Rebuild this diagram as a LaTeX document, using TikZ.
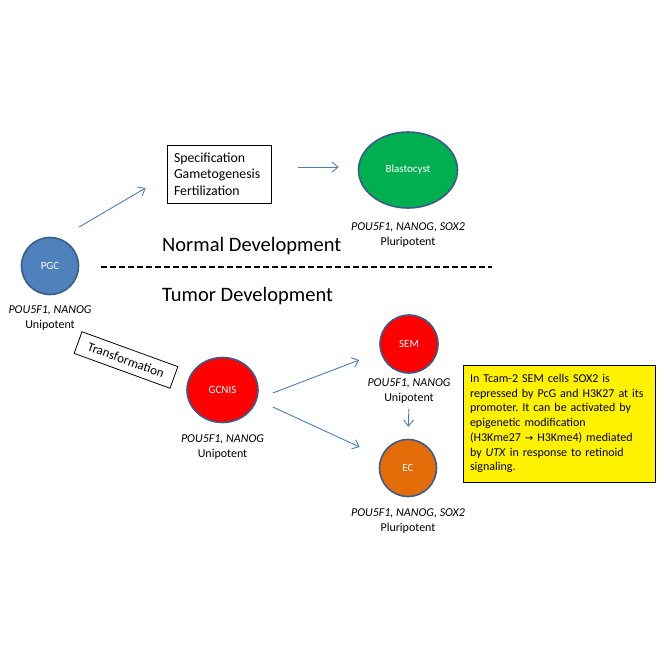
\documentclass[tikz,border=0pt]{standalone}
\usepackage{fontspec}
\setmainfont{Carlito}
\usetikzlibrary{positioning,arrows.meta,shapes.geometric}
\definecolor{cellblue}  {HTML}{4F81BD}
\definecolor{cellrim}   {HTML}{385D8A}
\definecolor{cellgreen} {HTML}{00B050}
\definecolor{cellred}   {HTML}{FF0000}
\definecolor{cellorange}{HTML}{E36C09}
\definecolor{arrowblue} {HTML}{4A7EBB}
\frenchspacing

\begin{document}
\begin{tikzpicture}[x=1pt, y=-1pt,
  font=\fontsize{12}{15}\selectfont,
  cell/.style  ={ellipse, draw=cellrim, line width=1.6pt, minimum width=57pt,
                 minimum height=57pt, inner sep=0pt, text=white,
                 font=\fontsize{11}{13}\selectfont},
  genes/.style ={align=center, inner sep=0pt, font=\fontsize{12}{15}\selectfont},
  stage/.style ={draw, line width=0.8pt, align=left, inner xsep=7pt,
                 font=\fontsize{13.8}{16.7}\selectfont},
  title/.style ={anchor=west, inner sep=0pt, font=\fontsize{20.5}{23}\selectfont},
  ar/.style    ={-{Straight Barb[length=6pt,width=10pt]}, draw=arrowblue,
                 line width=0.9pt},
]
\useasboundingbox (0,0) rectangle (664,664);

% normal development
\node[cell, fill=cellblue] (pgc) at (50,266) {PGC};
\node[genes, below=10pt of pgc] (pgctxt) {\textit{POU5F1, NANOG}\\Unipotent};

\node[stage, text width=90pt, minimum height=58pt] (spec) at (219,174)
  {Specification\\Gametogenesis\\Fertilization};

\node[cell, fill=cellgreen, minimum width=99pt, minimum height=76pt] (blast)
  at (408,170) {Blastocyst};
\node[genes, below=14pt of blast] (blasttxt)
  {\textit{POU5F1, NANOG, SOX2}\\Pluripotent};

\draw[ar] ([shift={(8,-18)}]pgc.north east) -- ([shift={(-21,14)}]spec.west);
\draw[ar] ([shift={(27,-7)}]spec.east) -- ([shift={(-19,-3)}]blast.west);

\node[title] (normal) at (162,246) {Normal Development};
\coordinate (cutL) at (101,267);
\coordinate (cutR) at (492,267);
\draw[line width=1.1pt, dash pattern=on 6pt off 3pt] (cutL) -- (cutR);
\node[title] (tumor) at (162,296) {Tumor Development};

% tumor development
\node[draw, line width=0.8pt, rotate=-20, minimum width=102pt, minimum height=23pt,
      inner sep=2pt, font=\fontsize{13}{15}\selectfont] (trans) at (126,360)
  {Transformation};

\node[cell, fill=cellred, minimum width=71pt, minimum height=65pt] (gcnis)
  at (222.5,390) {GCNIS};
\node[genes, below=11pt of gcnis] (gcnistxt) {\textit{POU5F1, NANOG}\\Unipotent};

\node[cell, fill=cellred, minimum width=58pt, minimum height=58pt] (sem)
  at (409,344) {SEM};
\node[genes, below=5pt of sem] (semtxt) {\textit{POU5F1, NANOG}\\Unipotent};

\node[cell, fill=cellorange] (ec) at (408,468) {EC};
\node[genes, below=11pt of ec] (ectxt) {\textit{POU5F1, NANOG, SOX2}\\Pluripotent};

\draw[ar] ([shift={(14,3)}]gcnis.east) -- ([shift={(-20,16)}]sem.west);
\draw[ar] ([shift={(14,17)}]gcnis.east) -- ([shift={(-19,-21)}]ec.west);
\draw[ar, shorten <=5pt, shorten >=12pt] (semtxt.south) -- (ec.north);

\node[draw, line width=0.8pt, fill=yellow, text width=178pt, align=left,
      inner xsep=7pt, inner ysep=7pt, minimum height=117pt,
      font=\fontsize{12}{14.7}\selectfont] (note) at (559,423.5)
  {In Tcam-2 SEM cells SOX2 is\\
   repressed by PcG and H3K27 at its\\
   promoter. It can be activated by\\
   epigenetic modification\\
   (H3Kme27 {\fontspec{DejaVu Sans}\fontsize{10}{12}\selectfont→} H3Kme4) mediated\\
   by \textit{UTX} in response to retinoid\\
   signaling.};
\end{tikzpicture}
\end{document}
